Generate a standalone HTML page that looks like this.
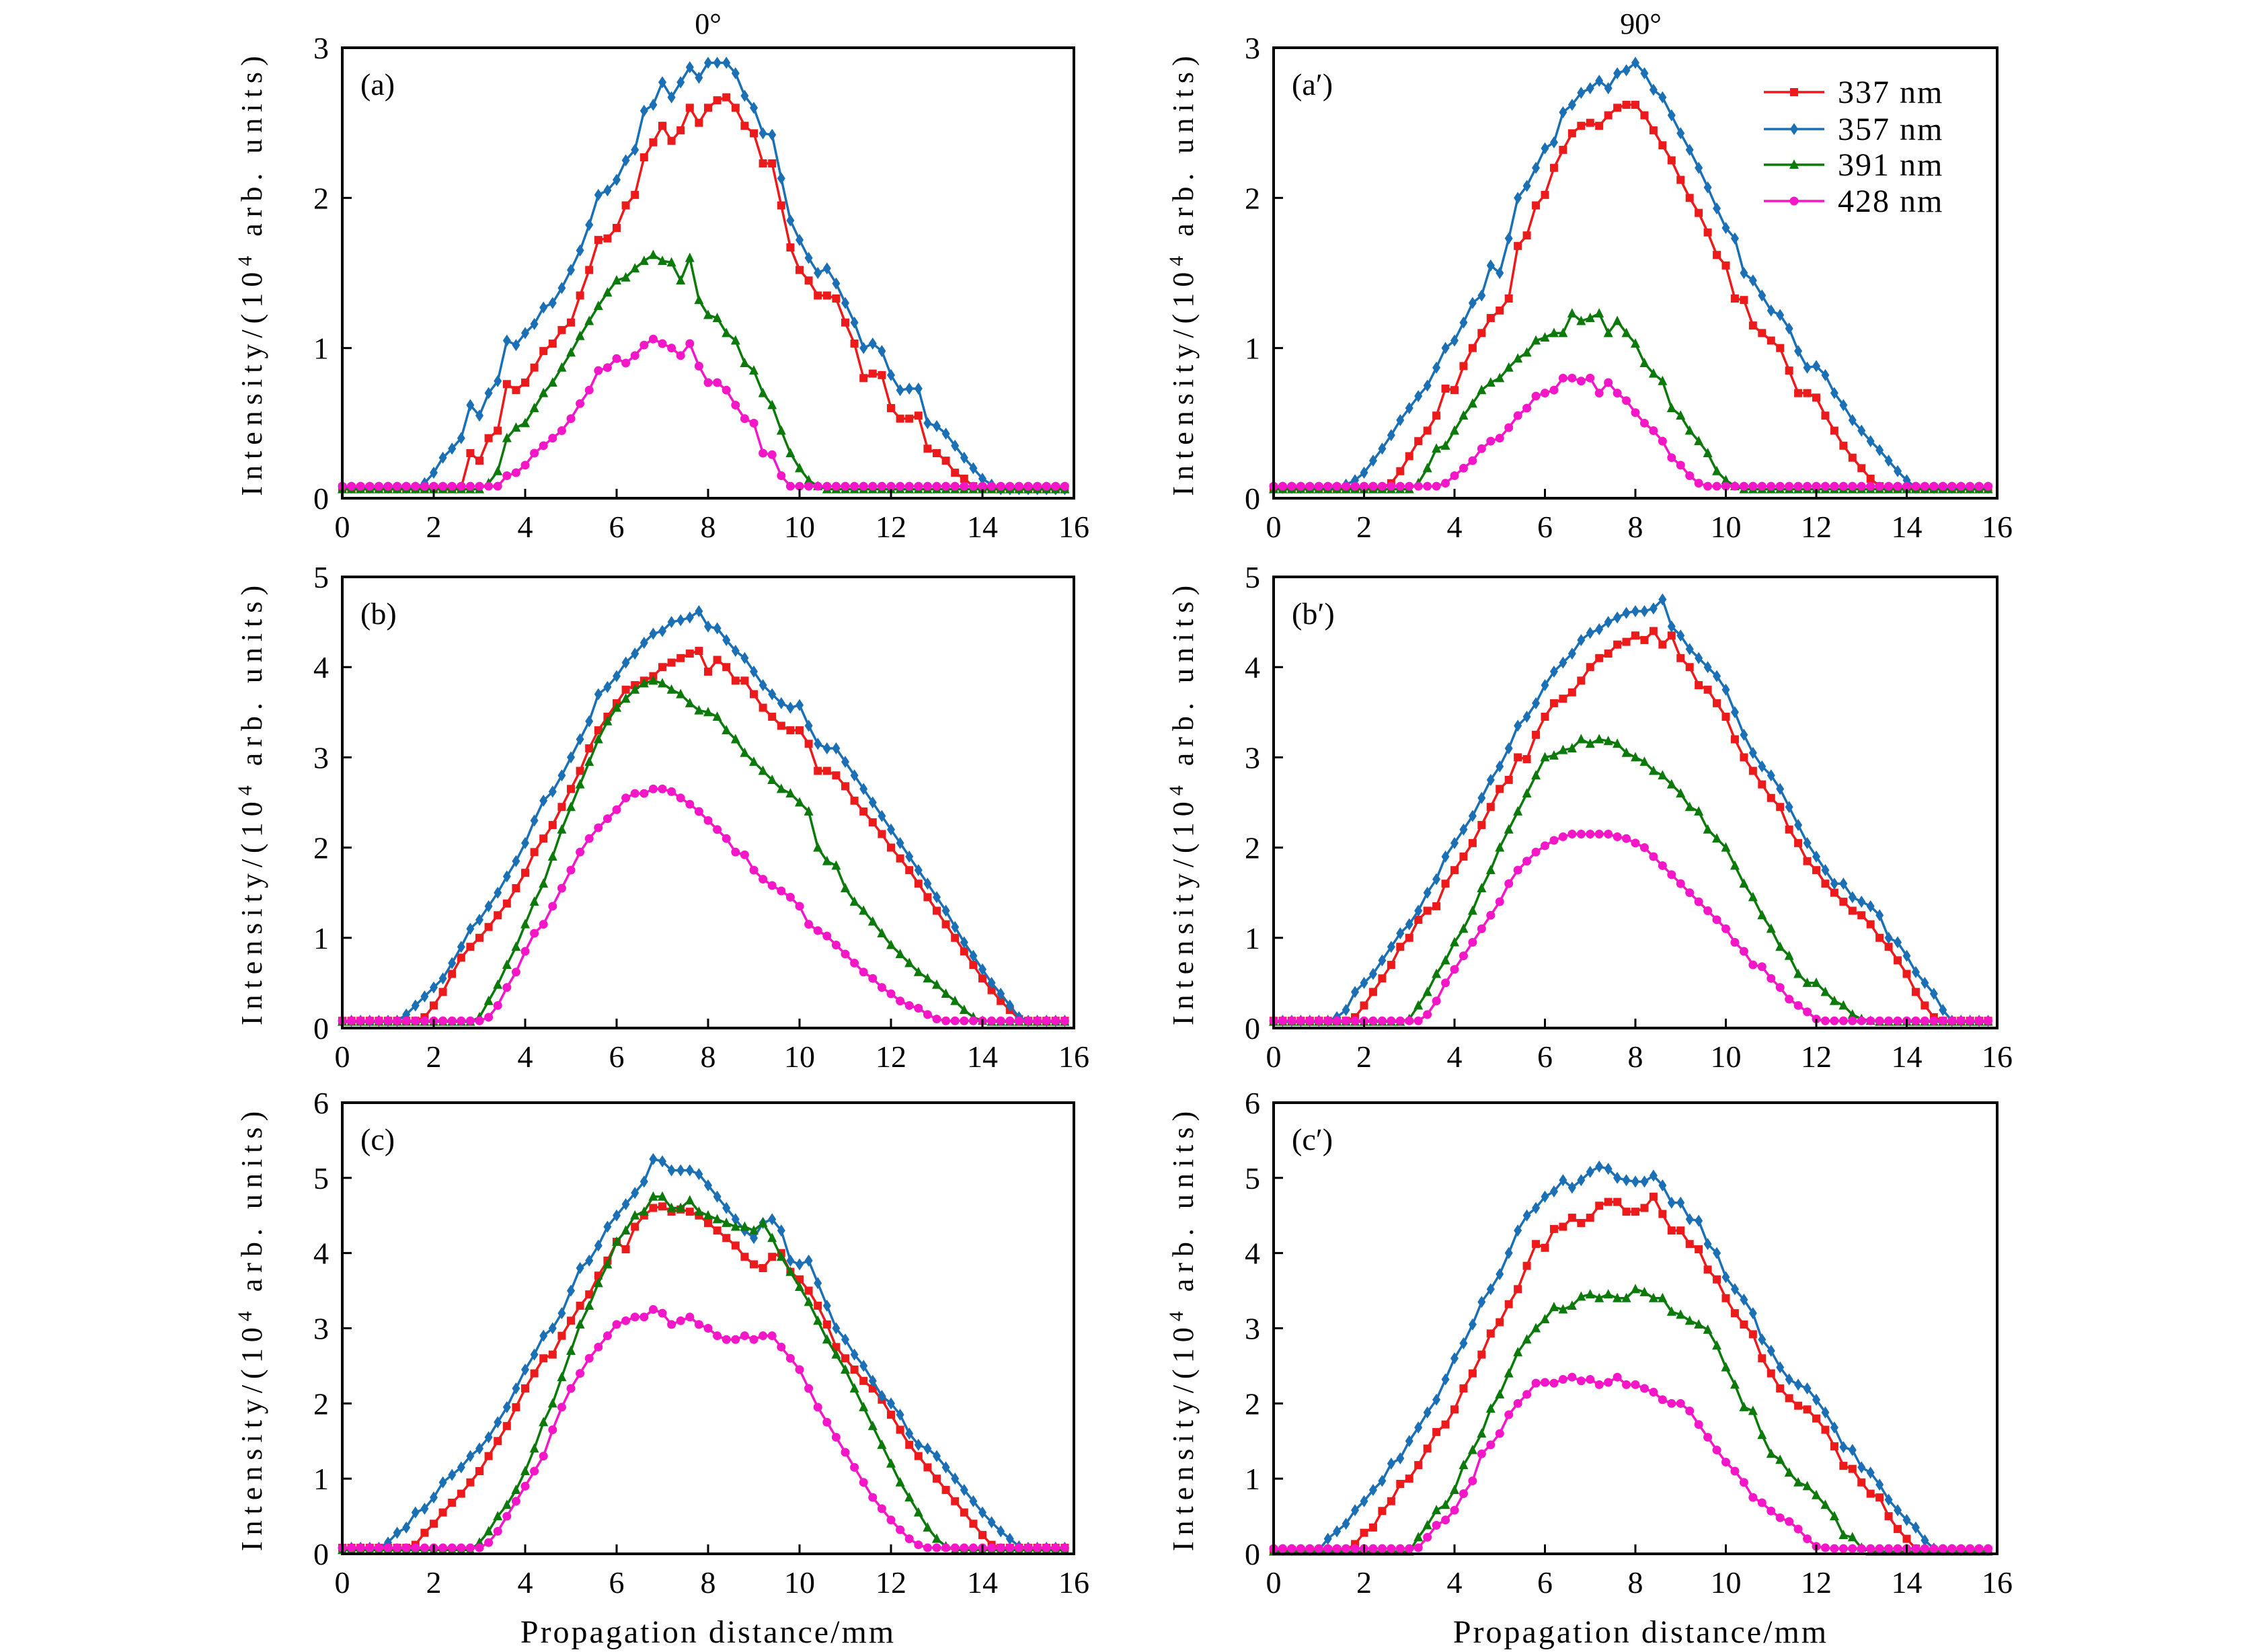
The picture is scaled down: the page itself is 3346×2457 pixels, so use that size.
<!DOCTYPE html>
<html><head><meta charset="utf-8"><style>
html,body{margin:0;padding:0;background:#fff}
svg{display:block}
text{font-family:"Liberation Serif",serif;fill:#000}
</style></head><body>
<svg id="fig" width="3346" height="2457" viewBox="0 0 3346 2457" xmlns="http://www.w3.org/2000/svg">
<text x="1053" y="50" font-size="44" text-anchor="middle">0°</text>
<text x="2440" y="50" font-size="44" text-anchor="middle">90°</text>
<text x="1053" y="2443" font-size="48" letter-spacing="3" text-anchor="middle">Propagation distance/mm</text>
<text x="2440" y="2443" font-size="48" letter-spacing="3" text-anchor="middle">Propagation distance/mm</text>
</svg>
<script>
// x step 0.2 mm, x from 0
const xStep = 0.2;
const xTicks = [0,2,4,6,8,10,12,14,16];
const yTicksA = [0,1,2,3];
const yTicksB = [0,1,2,3,4,5];
const yTicksC = [0,1,2,3,4,5,6];
const seriesNames = ['337 nm','357 nm','391 nm','428 nm'];

const a_337 = [0.07,0.07,0.07,0.07,0.07,0.07,0.07,0.07,0.07,0.07,0.07,0.07,0.07,0.07,0.3,0.25,0.4,0.45,0.76,0.72,0.77,0.87,0.98,1.03,1.12,1.17,1.35,1.52,1.72,1.73,1.8,1.95,2.02,2.27,2.37,2.48,2.38,2.45,2.6,2.5,2.6,2.65,2.67,2.6,2.48,2.43,2.23,2.23,1.95,1.67,1.52,1.45,1.35,1.35,1.33,1.17,1.03,0.8,0.83,0.82,0.6,0.53,0.53,0.55,0.33,0.3,0.25,0.17,0.13,0.08,0.07,0.07,0.07,0.07,0.07,0.07,0.07,0.07,0.07,0.07];
const a_357 = [0.07,0.07,0.07,0.07,0.07,0.07,0.07,0.07,0.07,0.1,0.17,0.27,0.33,0.4,0.62,0.55,0.7,0.78,1.05,1.02,1.1,1.16,1.27,1.3,1.4,1.52,1.65,1.82,2.02,2.05,2.12,2.25,2.32,2.58,2.62,2.77,2.67,2.77,2.87,2.8,2.9,2.9,2.9,2.83,2.68,2.6,2.43,2.42,2.13,1.85,1.72,1.6,1.5,1.53,1.43,1.3,1.17,1.0,1.03,0.98,0.82,0.72,0.73,0.73,0.5,0.48,0.43,0.35,0.27,0.2,0.13,0.09,0.06,0.06,0.06,0.06,0.06,0.06,0.06,0.06];
const a_391 = [0.06,0.06,0.06,0.06,0.06,0.06,0.06,0.06,0.06,0.06,0.06,0.06,0.06,0.06,0.06,0.06,0.1,0.18,0.4,0.47,0.5,0.6,0.7,0.77,0.87,0.97,1.08,1.18,1.28,1.37,1.45,1.47,1.53,1.58,1.62,1.58,1.57,1.45,1.6,1.32,1.22,1.2,1.1,1.05,0.9,0.85,0.7,0.62,0.45,0.3,0.2,0.12,0.08,0.06,0.06,0.06,0.06,0.06,0.06,0.06,0.06,0.06,0.06,0.06,0.06,0.06,0.06,0.06,0.06,0.06,0.06,0.06,0.06,0.06,0.06,0.06,0.06,0.06,0.06,0.06];
const a_428 = [0.08,0.08,0.08,0.08,0.08,0.08,0.08,0.08,0.08,0.08,0.08,0.08,0.08,0.08,0.08,0.08,0.08,0.08,0.15,0.17,0.22,0.3,0.35,0.4,0.45,0.53,0.63,0.72,0.85,0.87,0.93,0.9,0.95,1.02,1.06,1.03,1.0,0.95,1.03,0.88,0.77,0.77,0.72,0.62,0.53,0.5,0.3,0.29,0.15,0.08,0.08,0.08,0.08,0.08,0.08,0.08,0.08,0.08,0.08,0.08,0.08,0.08,0.08,0.08,0.08,0.08,0.08,0.08,0.08,0.08,0.08,0.08,0.08,0.08,0.08,0.08,0.08,0.08,0.08,0.08];

const ap_337 = [0.07,0.07,0.07,0.07,0.07,0.07,0.07,0.07,0.07,0.07,0.07,0.07,0.07,0.1,0.18,0.28,0.38,0.45,0.55,0.73,0.72,0.88,1.0,1.1,1.2,1.25,1.33,1.68,1.75,1.95,2.02,2.2,2.32,2.43,2.48,2.5,2.48,2.55,2.6,2.62,2.62,2.55,2.45,2.35,2.25,2.12,2.0,1.9,1.77,1.62,1.55,1.33,1.32,1.15,1.1,1.05,1.0,0.85,0.7,0.7,0.67,0.55,0.45,0.35,0.27,0.2,0.13,0.08,0.07,0.07,0.07,0.07,0.07,0.07,0.07,0.07,0.07,0.07,0.07,0.07];
const ap_357 = [0.07,0.07,0.07,0.07,0.07,0.07,0.07,0.07,0.09,0.12,0.17,0.25,0.33,0.42,0.52,0.6,0.68,0.75,0.87,1.0,1.05,1.17,1.3,1.35,1.55,1.5,1.73,2.0,2.08,2.2,2.33,2.37,2.57,2.62,2.7,2.73,2.78,2.73,2.83,2.85,2.9,2.83,2.72,2.67,2.55,2.43,2.32,2.2,2.07,1.93,1.8,1.73,1.5,1.45,1.35,1.25,1.22,1.13,0.98,0.87,0.88,0.82,0.7,0.62,0.52,0.45,0.38,0.32,0.25,0.18,0.12,0.07,0.07,0.07,0.07,0.07,0.07,0.07,0.07,0.07];
const ap_391 = [0.06,0.06,0.06,0.06,0.06,0.06,0.06,0.06,0.06,0.06,0.06,0.06,0.06,0.06,0.06,0.06,0.1,0.2,0.33,0.35,0.45,0.55,0.63,0.72,0.77,0.8,0.87,0.93,0.97,1.05,1.07,1.1,1.1,1.23,1.18,1.2,1.23,1.1,1.18,1.1,1.03,0.9,0.83,0.78,0.6,0.55,0.45,0.38,0.3,0.18,0.12,0.08,0.06,0.06,0.06,0.06,0.06,0.06,0.06,0.06,0.06,0.06,0.06,0.06,0.06,0.06,0.06,0.06,0.06,0.06,0.06,0.06,0.06,0.06,0.06,0.06,0.06,0.06,0.06,0.06];
const ap_428 = [0.08,0.08,0.08,0.08,0.08,0.08,0.08,0.08,0.08,0.08,0.08,0.08,0.08,0.08,0.08,0.08,0.08,0.08,0.08,0.1,0.15,0.2,0.25,0.33,0.38,0.4,0.47,0.55,0.6,0.68,0.7,0.72,0.8,0.8,0.78,0.8,0.7,0.77,0.7,0.65,0.57,0.5,0.45,0.38,0.27,0.22,0.15,0.1,0.08,0.08,0.08,0.08,0.08,0.08,0.08,0.08,0.08,0.08,0.08,0.08,0.08,0.08,0.08,0.08,0.08,0.08,0.08,0.08,0.08,0.08,0.08,0.08,0.08,0.08,0.08,0.08,0.08,0.08,0.08,0.08];

const b_337 = [0.08,0.08,0.08,0.08,0.08,0.08,0.08,0.08,0.08,0.12,0.25,0.4,0.6,0.78,0.9,1.0,1.12,1.25,1.38,1.55,1.72,1.95,2.1,2.25,2.45,2.65,2.85,3.1,3.3,3.45,3.6,3.75,3.8,3.85,3.9,4.0,4.05,4.1,4.15,4.18,3.95,4.08,4.0,3.85,3.85,3.7,3.55,3.45,3.35,3.3,3.3,3.15,2.85,2.85,2.8,2.68,2.52,2.4,2.28,2.15,2.0,1.88,1.75,1.6,1.45,1.3,1.15,1.0,0.85,0.7,0.55,0.42,0.3,0.2,0.1,0.08,0.08,0.08,0.08,0.08];
const b_357 = [0.08,0.08,0.08,0.08,0.08,0.08,0.08,0.15,0.25,0.35,0.45,0.55,0.72,0.9,1.1,1.2,1.35,1.5,1.68,1.85,2.05,2.3,2.52,2.62,2.8,3.0,3.2,3.4,3.7,3.78,3.9,4.05,4.15,4.27,4.37,4.4,4.5,4.52,4.55,4.62,4.45,4.43,4.3,4.18,4.1,3.95,3.8,3.7,3.6,3.55,3.58,3.35,3.15,3.1,3.1,2.95,2.8,2.65,2.5,2.35,2.2,2.05,1.9,1.75,1.6,1.45,1.3,1.12,0.95,0.8,0.65,0.5,0.38,0.25,0.12,0.08,0.08,0.08,0.08,0.08];
const b_391 = [0.07,0.07,0.07,0.07,0.07,0.07,0.07,0.07,0.07,0.07,0.07,0.07,0.07,0.07,0.07,0.12,0.3,0.48,0.7,0.9,1.15,1.4,1.6,1.9,2.2,2.45,2.7,2.95,3.2,3.4,3.55,3.65,3.75,3.82,3.85,3.82,3.75,3.7,3.6,3.52,3.5,3.45,3.3,3.2,3.05,2.95,2.85,2.75,2.65,2.6,2.5,2.4,2.0,1.85,1.8,1.55,1.4,1.3,1.18,1.05,0.92,0.82,0.72,0.62,0.55,0.48,0.38,0.3,0.2,0.12,0.08,0.07,0.07,0.07,0.07,0.07,0.07,0.07,0.07,0.07];
const b_428 = [0.08,0.08,0.08,0.08,0.08,0.08,0.08,0.08,0.08,0.08,0.08,0.08,0.08,0.08,0.08,0.08,0.12,0.25,0.45,0.62,0.85,1.05,1.15,1.35,1.55,1.75,1.95,2.1,2.22,2.32,2.42,2.55,2.6,2.6,2.65,2.65,2.62,2.55,2.48,2.4,2.3,2.2,2.1,1.95,1.92,1.75,1.65,1.58,1.52,1.45,1.35,1.15,1.08,1.02,0.92,0.82,0.72,0.62,0.55,0.45,0.38,0.3,0.25,0.22,0.15,0.1,0.08,0.08,0.08,0.08,0.08,0.08,0.08,0.08,0.08,0.08,0.08,0.08,0.08,0.08];

const bp_337 = [0.08,0.08,0.08,0.08,0.08,0.08,0.08,0.08,0.08,0.12,0.25,0.4,0.55,0.7,0.9,1.0,1.2,1.3,1.35,1.6,1.75,1.9,2.05,2.25,2.45,2.65,2.75,3.0,2.98,3.25,3.45,3.6,3.65,3.72,3.85,4.0,4.1,4.15,4.25,4.28,4.35,4.3,4.4,4.25,4.35,4.1,4.0,3.8,3.75,3.6,3.45,3.2,3.0,2.85,2.7,2.55,2.45,2.2,2.05,1.85,1.75,1.6,1.5,1.4,1.3,1.25,1.15,1.0,0.9,0.75,0.6,0.4,0.25,0.12,0.08,0.08,0.08,0.08,0.08,0.08];
const bp_357 = [0.08,0.08,0.08,0.08,0.08,0.08,0.08,0.12,0.2,0.4,0.5,0.6,0.75,0.9,1.05,1.15,1.3,1.5,1.65,1.9,2.05,2.2,2.35,2.55,2.75,2.9,3.1,3.35,3.45,3.6,3.8,3.95,4.05,4.15,4.3,4.38,4.42,4.5,4.55,4.6,4.62,4.62,4.65,4.75,4.45,4.35,4.2,4.1,4.0,3.9,3.75,3.5,3.25,3.05,2.9,2.8,2.65,2.45,2.25,2.05,1.9,1.75,1.6,1.6,1.45,1.4,1.35,1.25,1.0,0.95,0.8,0.62,0.5,0.38,0.2,0.08,0.08,0.08,0.08,0.08];
const bp_391 = [0.07,0.07,0.07,0.07,0.07,0.07,0.07,0.07,0.07,0.07,0.07,0.07,0.07,0.07,0.07,0.1,0.25,0.4,0.6,0.75,0.95,1.1,1.3,1.55,1.75,2.0,2.2,2.4,2.6,2.8,3.0,3.02,3.08,3.1,3.2,3.15,3.2,3.18,3.15,3.05,3.0,2.95,2.85,2.8,2.7,2.6,2.45,2.4,2.2,2.1,2.0,1.8,1.6,1.45,1.25,1.1,0.9,0.8,0.6,0.5,0.5,0.4,0.3,0.25,0.15,0.1,0.08,0.07,0.07,0.07,0.07,0.07,0.07,0.07,0.07,0.07,0.07,0.07,0.07,0.07];
const bp_428 = [0.08,0.08,0.08,0.08,0.08,0.08,0.08,0.08,0.08,0.08,0.08,0.08,0.08,0.08,0.08,0.08,0.08,0.15,0.3,0.5,0.65,0.8,0.95,1.1,1.25,1.4,1.6,1.75,1.85,1.95,2.02,2.08,2.12,2.15,2.15,2.15,2.15,2.15,2.12,2.1,2.05,2.0,1.9,1.8,1.7,1.6,1.5,1.4,1.3,1.2,1.1,0.95,0.85,0.7,0.68,0.55,0.45,0.32,0.25,0.18,0.1,0.08,0.08,0.08,0.08,0.08,0.08,0.08,0.08,0.08,0.08,0.08,0.08,0.08,0.08,0.08,0.08,0.08,0.08,0.08];

const c_337 = [0.08,0.08,0.08,0.08,0.08,0.08,0.08,0.08,0.12,0.28,0.4,0.55,0.68,0.8,0.95,1.1,1.3,1.5,1.7,1.95,2.2,2.4,2.6,2.65,2.9,3.1,3.3,3.45,3.7,3.9,4.15,4.05,4.35,4.5,4.6,4.62,4.55,4.58,4.55,4.5,4.4,4.3,4.2,4.1,3.95,3.85,3.8,3.95,4.0,3.75,3.65,3.5,3.3,3.05,2.75,2.6,2.45,2.3,2.2,2.05,1.85,1.65,1.45,1.3,1.15,1.0,0.85,0.7,0.55,0.4,0.25,0.12,0.08,0.08,0.08,0.08,0.08,0.08,0.08,0.08];
const c_357 = [0.08,0.08,0.08,0.08,0.08,0.15,0.28,0.35,0.55,0.6,0.75,0.95,1.05,1.15,1.3,1.4,1.55,1.75,1.95,2.2,2.45,2.65,2.9,3.0,3.2,3.5,3.8,3.9,4.1,4.35,4.5,4.65,4.8,4.95,5.25,5.22,5.1,5.1,5.1,5.05,4.9,4.75,4.6,4.45,4.3,4.2,4.4,4.45,4.3,3.9,3.85,3.9,3.6,3.3,3.0,2.85,2.65,2.5,2.3,2.1,2.0,1.85,1.6,1.45,1.4,1.3,1.15,1.0,0.85,0.7,0.55,0.42,0.3,0.2,0.1,0.08,0.08,0.08,0.08,0.08];
const c_391 = [0.05,0.05,0.05,0.05,0.05,0.05,0.05,0.05,0.05,0.05,0.05,0.05,0.05,0.05,0.05,0.15,0.3,0.5,0.65,0.85,1.1,1.4,1.75,2.0,2.35,2.7,3.05,3.3,3.6,3.85,4.15,4.3,4.5,4.55,4.75,4.75,4.6,4.6,4.7,4.55,4.5,4.45,4.4,4.35,4.35,4.3,4.4,4.2,3.95,3.75,3.55,3.35,3.1,2.85,2.65,2.45,2.2,1.95,1.7,1.45,1.2,0.95,0.75,0.55,0.35,0.2,0.1,0.05,0.05,0.05,0.05,0.05,0.05,0.05,0.05,0.05,0.05,0.05,0.05,0.05];
const c_428 = [0.08,0.08,0.08,0.08,0.08,0.08,0.08,0.08,0.08,0.08,0.08,0.08,0.08,0.08,0.08,0.08,0.15,0.3,0.5,0.7,0.9,1.1,1.3,1.65,1.95,2.2,2.4,2.6,2.75,2.9,3.05,3.1,3.15,3.15,3.25,3.2,3.05,3.1,3.15,3.05,3.0,2.9,2.85,2.85,2.9,2.85,2.9,2.9,2.75,2.6,2.45,2.2,1.95,1.75,1.55,1.35,1.15,0.95,0.75,0.6,0.45,0.32,0.2,0.12,0.08,0.08,0.08,0.08,0.08,0.08,0.08,0.08,0.08,0.08,0.08,0.08,0.08,0.08,0.08,0.08];

const cp_337 = [0.05,0.05,0.05,0.05,0.05,0.05,0.05,0.05,0.05,0.13,0.28,0.35,0.57,0.7,0.93,1.0,1.18,1.4,1.62,1.72,1.92,2.2,2.4,2.65,2.93,3.08,3.32,3.52,3.83,4.12,4.07,4.32,4.35,4.47,4.4,4.47,4.63,4.68,4.68,4.55,4.55,4.6,4.75,4.52,4.3,4.3,4.12,4.05,3.78,3.65,3.4,3.2,3.05,2.92,2.6,2.4,2.2,2.07,1.97,1.92,1.8,1.65,1.43,1.17,1.13,0.95,0.8,0.75,0.5,0.33,0.2,0.07,0.05,0.05,0.05,0.05,0.05,0.05,0.05,0.05];
const cp_357 = [0.05,0.05,0.05,0.05,0.05,0.05,0.2,0.3,0.4,0.58,0.7,0.85,0.97,1.2,1.27,1.5,1.68,1.88,2.05,2.32,2.6,2.8,3.05,3.35,3.52,3.72,4.0,4.3,4.5,4.6,4.75,4.82,4.97,4.87,4.97,5.08,5.15,5.12,5.0,4.97,4.95,4.95,5.03,4.9,4.67,4.67,4.45,4.43,4.12,4.0,3.68,3.52,3.38,3.2,2.85,2.7,2.48,2.32,2.25,2.2,2.05,1.88,1.68,1.42,1.38,1.15,1.08,0.92,0.72,0.58,0.45,0.35,0.18,0.07,0.05,0.05,0.05,0.05,0.05,0.05];
const cp_391 = [0.03,0.03,0.03,0.03,0.03,0.03,0.03,0.03,0.03,0.03,0.03,0.03,0.03,0.03,0.03,0.03,0.22,0.38,0.58,0.65,0.85,1.18,1.38,1.6,1.93,2.12,2.4,2.68,2.85,3.0,3.12,3.28,3.25,3.3,3.42,3.45,3.4,3.45,3.4,3.4,3.52,3.48,3.4,3.4,3.22,3.18,3.1,3.05,2.98,2.77,2.48,2.25,1.95,1.9,1.58,1.33,1.25,1.08,0.95,0.9,0.78,0.65,0.5,0.25,0.22,0.08,0.03,0.03,0.03,0.03,0.03,0.03,0.03,0.03,0.03,0.03,0.03,0.03,0.03,0.03];
const cp_428 = [0.07,0.07,0.07,0.07,0.07,0.07,0.07,0.07,0.07,0.07,0.07,0.07,0.07,0.07,0.07,0.07,0.08,0.22,0.38,0.45,0.58,0.8,0.97,1.33,1.45,1.6,1.85,2.0,2.12,2.27,2.28,2.27,2.32,2.35,2.3,2.32,2.25,2.28,2.35,2.25,2.25,2.2,2.15,2.05,2.0,2.0,1.9,1.72,1.55,1.38,1.22,1.1,0.95,0.75,0.68,0.57,0.48,0.43,0.33,0.2,0.1,0.08,0.07,0.07,0.07,0.07,0.07,0.07,0.07,0.07,0.07,0.07,0.07,0.07,0.07,0.07,0.07,0.07,0.07,0.07];

const NS='http://www.w3.org/2000/svg';
const svg=document.getElementById('fig');
const colors={'337':'#ec1a1a','357':'#1a6fb5','391':'#0b7a0b','428':'#f516c8'};
function mk(tag,attrs,parent){const e=document.createElementNS(NS,tag);for(const k in attrs)e.setAttribute(k,attrs[k]);(parent||svg).appendChild(e);return e;}
function marker(kind,x,y,c,g){
  if(kind==='337'){return mk('rect',{x:x-6,y:y-6,width:12,height:12,fill:c},g);}
  if(kind==='357'){return mk('polygon',{points:`${x},${y-9} ${x+6},${y} ${x},${y+9} ${x-6},${y}`,fill:c},g);}
  if(kind==='391'){return mk('polygon',{points:`${x},${y-8} ${x+7},${y+6} ${x-7},${y+6}`,fill:c},g);}
  return mk('circle',{cx:x,cy:y,r:6.5,fill:c},g);
}
const panels=[
 {id:'a',label:'(a)',x0:509,x1:1597,y0:71,y1:741,ymax:3,ticks:yTicksA,data:{'337':a_337,'357':a_357,'391':a_391,'428':a_428}},
 {id:'a-prime',label:'(a′)',x0:1894,x1:2970,y0:71,y1:741,ymax:3,ticks:yTicksA,data:{'337':ap_337,'357':ap_357,'391':ap_391,'428':ap_428},legend:true},
 {id:'b',label:'(b)',x0:509,x1:1597,y0:858,y1:1529,ymax:5,ticks:yTicksB,data:{'337':b_337,'357':b_357,'391':b_391,'428':b_428}},
 {id:'b-prime',label:'(b′)',x0:1894,x1:2970,y0:858,y1:1529,ymax:5,ticks:yTicksB,data:{'337':bp_337,'357':bp_357,'391':bp_391,'428':bp_428}},
 {id:'c',label:'(c)',x0:509,x1:1597,y0:1640,y1:2311,ymax:6,ticks:yTicksC,data:{'337':c_337,'357':c_357,'391':c_391,'428':c_428}},
 {id:'c-prime',label:'(c′)',x0:1894,x1:2970,y0:1640,y1:2311,ymax:6,ticks:yTicksC,data:{'337':cp_337,'357':cp_357,'391':cp_391,'428':cp_428}}
];
const drawOrder=['337','357','391','428'];
panels.forEach(p=>{
  const g=mk('g',{});
  
  
  const sx=v=>p.x0+(v/16)*(p.x1-p.x0);
  const sy=v=>p.y1-(v/p.ymax)*(p.y1-p.y0);
  drawOrder.forEach(k=>{
    const arr=p.data[k];const c=colors[k];
    const sg=mk('g',{},g);
    
    
    const pts=[];
    for(let i=0;i<arr.length;i++){const xv=i*xStep;if(xv>15.81)break;pts.push([sx(xv),sy(arr[i])]);}
    const pl=mk('polyline',{points:pts.map(q=>q.join(',')).join(' '),fill:'none',stroke:c,'stroke-width':3.5,'stroke-linejoin':'round'},sg);
    
    
    pts.forEach(q=>{const m=marker(k,q[0],q[1],c,sg);
      
      });
  });
  const fr=mk('rect',{x:p.x0,y:p.y0,width:p.x1-p.x0,height:p.y1-p.y0,fill:'none',stroke:'#000','stroke-width':4},g);
  
  
  xTicks.forEach(t=>{
    const x=sx(t);
    const tl=mk('line',{x1:x,y1:p.y1,x2:x,y2:p.y1-14,stroke:'#000','stroke-width':3},g);
    
    
    const tx=mk('text',{x:x,y:p.y1+58,'font-size':46,'text-anchor':'middle'},g);
    tx.textContent=t;
    
    
  });
  p.ticks.forEach(t=>{
    const y=sy(t);
    const tl=mk('line',{x1:p.x0,y1:y,x2:p.x0+14,y2:y,stroke:'#000','stroke-width':3},g);
    
    
    const tx=mk('text',{x:p.x0-20,y:y+16,'font-size':46,'text-anchor':'end'},g);
    tx.textContent=t;
    
    
  });
  const lb=mk('text',{x:p.x0+27,y:p.y0+70,'font-size':46},g);
  lb.textContent=p.label;
  
  
  const cx=p.x0-120, cy=(p.y0+p.y1)/2;
  const yt=mk('text',{x:cx,y:cy,'font-size':44,'text-anchor':'middle','letter-spacing':'9',transform:`rotate(-90 ${cx} ${cy})`},g);
  
  
  yt.appendChild(document.createTextNode('Intensity/(10'));
  const sup=mk('tspan',{'font-size':30,dy:-15},yt);sup.textContent='4';
  const rest=mk('tspan',{dy:15},yt);rest.textContent=' arb. units)';
  if(p.legend){
    const lg=mk('g',{},g);
    
    
    const ys=[137,192,245,299];
    drawOrder.forEach((k,i)=>{
      const eg=mk('g',{},lg);
      
      
      mk('line',{x1:2623,y1:ys[i],x2:2713,y2:ys[i],stroke:colors[k],'stroke-width':3.5},eg);
      marker(k,2668,ys[i],colors[k],eg);
      const t=mk('text',{x:2733,y:ys[i]+16,'font-size':48,'letter-spacing':'2'},eg);
      t.textContent=seriesNames[i];
    });
  }
});
</script>
</body></html>
